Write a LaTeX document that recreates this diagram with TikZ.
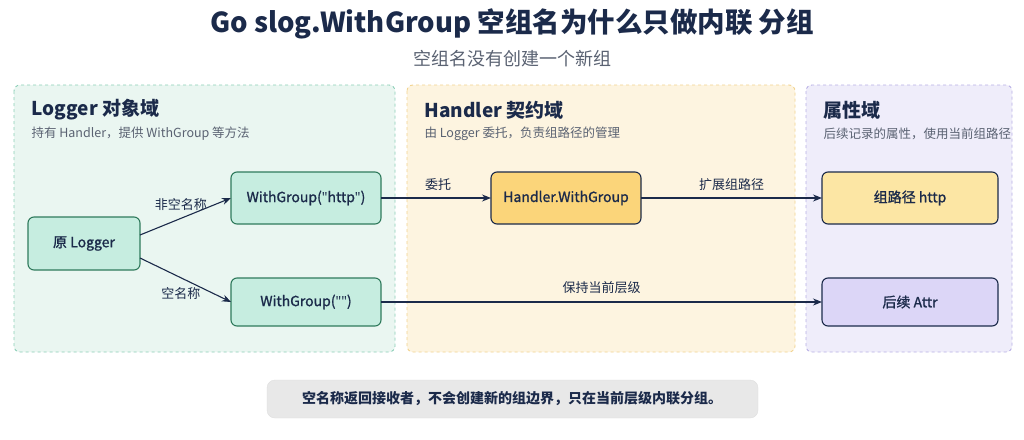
\documentclass[tikz,border=0pt]{standalone}
\usepackage{fontspec}
\setmainfont{Noto Sans CJK SC}
\newfontfamily\lat{Noto Sans}
\newfontfamily\semi{Noto Sans CJK SC}[FakeBold=1.2]
\usetikzlibrary{arrows.meta}

\definecolor{navy}{HTML}{1B2A4A}
\definecolor{greyt}{HTML}{5A6272}
\definecolor{gfill}{HTML}{EAF6F1}
\definecolor{gline}{HTML}{8CCFB8}
\definecolor{yfill}{HTML}{FDF4E0}
\definecolor{yline}{HTML}{F2D38F}
\definecolor{pfill}{HTML}{EFEDFA}
\definecolor{pline}{HTML}{B9B0E6}
\definecolor{nodeg}{HTML}{C6EDE0}
\definecolor{nodegl}{HTML}{2F7A5C}
\definecolor{nodeo}{HTML}{FBD57A}
\definecolor{nodey}{HTML}{FCE6A4}
\definecolor{nodep}{HTML}{DCD6F7}

\tikzset{
  panel/.style={rounded corners=6pt, dashed, line width=0.9pt},
  box/.style={rounded corners=6pt, line width=1.1pt, font=\fontsize{14}{16}\selectfont\semi, text=navy},
  conn/.style={-{Stealth[length=9pt,width=7pt]}, line width=1.1pt, navy},
  lbl/.style={font=\fontsize{13}{15}\selectfont, text=navy}
}
\newcommand{\qq}{{\lat\symbol{34}}}

\begin{document}
\begin{tikzpicture}[x=1pt,y=-1pt]
    \useasboundingbox[fill=white] (0,0) rectangle (1024,439);

    % title
    \node[font=\fontsize{27.5}{31}\selectfont\bfseries, text=navy] (title) at (512,24) {Go slog.WithGroup 空组名为什么只做内联 分组};
    \node[font=\fontsize{18}{22}\selectfont, text=greyt] (sub) at (512,59) {空组名没有创建一个新组};

    % panels
    \draw[panel, draw=gline, fill=gfill] (14,85) rectangle (395,352);
    \draw[panel, draw=yline, fill=yfill] (407,85) rectangle (795,352);
    \draw[panel, draw=pline, fill=pfill] (806,85) rectangle (1012,352);

    \node[anchor=west, font=\fontsize{19}{22}\selectfont\bfseries, text=navy] (h1) at (28,110) {Logger 对象域};
    \node[anchor=west, font=\fontsize{12.5}{15}\selectfont, text=greyt] (s1) at (28,134) {持有 Handler，提供 WithGroup 等方法};
    \node[anchor=west, font=\fontsize{19}{22}\selectfont\bfseries, text=navy] (h2) at (421,110) {Handler 契约域};
    \node[anchor=west, font=\fontsize{12.5}{15}\selectfont, text=greyt] (s2) at (421,134) {由 Logger 委托，负责组路径的管理};
    \node[anchor=west, font=\fontsize{19}{22}\selectfont\bfseries, text=navy] (h3) at (820,110) {属性域};
    \node[anchor=west, font=\fontsize{12.5}{15}\selectfont, text=greyt] (s3) at (820,134) {后续记录的属性，使用当前组路径};

    % nodes
    \draw[box, draw=nodegl, fill=nodeg] (28,217) rectangle (140,270);
    \node[box] (logger) at (84,243.5) {原 Logger};
    \draw[box, draw=nodegl, fill=nodeg] (231,172) rectangle (381,224);
    \node[box] (wghttp) at (306,198) {WithGroup(\qq http\qq)};
    \draw[box, draw=nodegl, fill=nodeg] (231,278) rectangle (381,326);
    \node[box] (wgempty) at (306,302) {WithGroup(\qq\qq)};
    \draw[box, draw=navy, fill=nodeo] (491,172) rectangle (641,224);
    \node[box] (hwg) at (566,198) {Handler.WithGroup};
    \draw[box, draw=navy, fill=nodey] (822,172) rectangle (998,224);
    \node[box] (path) at (910,198) {组路径 http};
    \draw[box, draw=navy, fill=nodep] (822,278) rectangle (998,326);
    \node[box] (attr) at (910,302) {后续 Attr};

    \coordinate (lgR) at (140,235);
    \coordinate (lgR2) at (140,258);
    \coordinate (wgL) at (231,198);
    \coordinate (weL) at (231,302);
    \draw[conn] (lgR) -- node[lbl, above, pos=0.45, yshift=4pt] {非空名称} (wgL);
    \draw[conn] (lgR2) -- node[lbl, below, pos=0.45, yshift=-6pt] {空名称} (weL);
    \draw[conn] (381,198) -- (491,198);
    \node[lbl] (wt) at (438,185) {委托};
    \draw[conn] (641,198) -- node[lbl, above, yshift=4pt] {扩展组路径} (822,198);
    \draw[conn] (381,302) -- node[lbl, above, yshift=4pt] {保持当前层级} (822,302);

    % note
    \draw[rounded corners=8pt, fill=gray!18, draw=gray!25] (267,380) rectangle (758,418);
    \node[font=\fontsize{14}{16}\selectfont\bfseries, text=navy] (note) at (512,399) {空名称返回接收者，不会创建新的组边界，只在当前层级内联分组。};
\end{tikzpicture}
\end{document}
